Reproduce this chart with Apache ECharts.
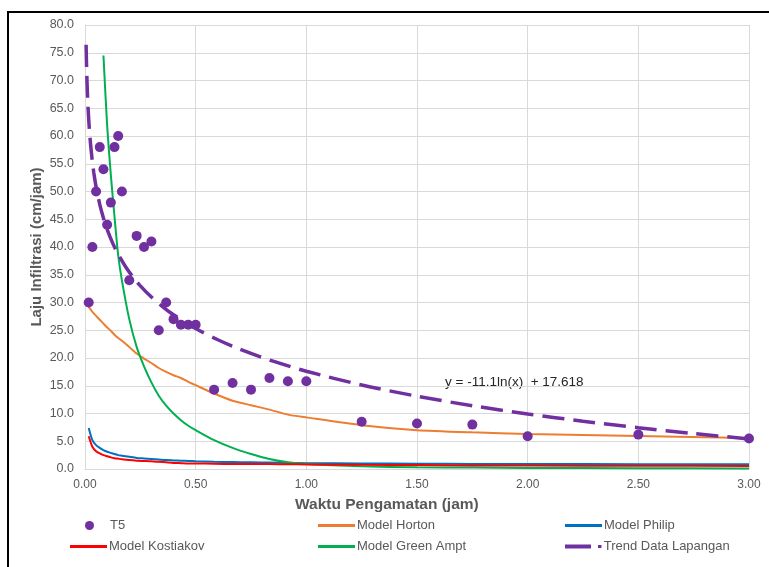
<!DOCTYPE html>
<html>
<head>
<meta charset="utf-8">
<script src="https://cdn.jsdelivr.net/npm/echarts@6/dist/echarts.min.js"></script>
<style>
  html, body { margin: 0; padding: 0; background: #fff; }
  #chart { width: 769px; height: 567px; }
</style>
</head>
<body>
<div id="chart"></div>
<script>
// Waktu pengamatan (jam)
const waktu = [0.0167, 0.0333, 0.05, 0.0667, 0.0833, 0.1, 0.1167, 0.1333, 0.15, 0.1667,
  0.2, 0.2333, 0.2667, 0.3, 0.3333, 0.3667, 0.4, 0.4333, 0.4667, 0.5,
  0.5833, 0.6667, 0.75, 0.8333, 0.9167, 1.0, 1.25, 1.5, 1.75, 2.0, 2.5, 3.0];

// Laju infiltrasi lapangan T5 (cm/jam)
const lajuT5 = [30, 40, 50, 58, 54, 44, 48, 58, 60, 50,
  34, 42, 40, 41, 25, 30, 27, 26, 26, 26,
  14.3, 15.5, 14.3, 16.4, 15.8, 15.8, 8.5, 8.2, 8.0, 5.9, 6.2, 5.5];

const modelHorton = [29.2, 28.3, 27.6, 26.9, 26.2, 25.5, 24.9, 24.2, 23.6, 23.1,
  22.0, 20.8, 19.9, 19.1, 18.2, 17.5, 16.9, 16.4, 15.7, 15.1,
  13.6, 12.3, 11.5, 10.7, 9.8, 9.3, 7.9, 7.0, 6.6, 6.3, 5.95, 5.6];

const modelPhilip = [7.4, 5.2, 4.3, 3.8, 3.4, 3.1, 2.9, 2.7, 2.5, 2.4,
  2.2, 2.0, 1.9, 1.8, 1.7, 1.6, 1.55, 1.5, 1.45, 1.4,
  1.3, 1.25, 1.2, 1.15, 1.1, 1.05, 1.0, 0.95, 0.92, 0.9, 0.87, 0.85];

const modelKostiakov = [5.9, 4.0, 3.2, 2.8, 2.5, 2.3, 2.1, 1.95, 1.85, 1.75,
  1.6, 1.5, 1.45, 1.4, 1.3, 1.2, 1.1, 1.05, 1.0, 1.0,
  0.95, 0.9, 0.9, 0.88, 0.85, 0.82, 0.75, 0.7, 0.65, 0.62, 0.58, 0.55];

// Green Ampt dimulai pada menit ke-5
const waktuGreenAmpt = waktu.slice(4);
const modelGreenAmpt = [74.5, 62, 53, 45.5, 38.5, 34,
  27, 22, 18.5, 15.6, 13.2, 11.4, 10.0, 8.8, 7.8, 7.0,
  5.2, 3.8, 2.7, 1.8, 1.2, 0.9, 0.5, 0.3, 0.25, 0.2, 0.15, 0.1];

// Trendline logaritmik: y = a ln(x) + b
const trendA = -11.1;
const trendB = 17.618;
const trendX = [0.005, 0.006, 0.0075, 0.009, 0.011, 0.0135, 0.0167, 0.02, 0.025, 0.0333,
  0.04, 0.05, 0.0667, 0.0833, 0.1, 0.125, 0.15, 0.1833, 0.2167, 0.25, 0.3, 0.35,
  0.4, 0.5, 0.6, 0.7, 0.85, 1.0, 1.25, 1.5, 1.75, 2.0, 2.25, 2.5, 2.75, 3.0];

const xTicks = ['0.00', '0.50', '1.00', '1.50', '2.00', '2.50', '3.00'];

const pairs = (xs, ys) => xs.map((x, i) => [x, ys[i]]);
const trendData = trendX.map(x => [x, trendA * Math.log(x) + trendB]);

const FONT = '"Liberation Sans", Arial, sans-serif';
const GREY = '#595959';

const chart = echarts.init(document.getElementById('chart'), null, { renderer: 'canvas' });

function legendItem(name, left, top, icon, h) {
  return {
    data: [{ name: name, icon: icon }],
    left: left, top: top,
    itemWidth: 37, itemHeight: h, itemGap: 0,
    padding: 0,
    selectedMode: false,
    textStyle: { fontFamily: FONT, fontSize: 13, color: GREY, padding: [0, 0, 0, -3] }
  };
}

const option = {
  backgroundColor: '#fff',
  animation: false,
  grid: { left: 85, right: 20, top: 25, bottom: 98, containLabel: false },
  xAxis: {
    type: 'value', min: 0, max: 3, interval: 0.5,
    axisLine: { show: true, lineStyle: { color: '#d9d9d9', width: 1 } },
    axisTick: { show: false },
    splitLine: { show: true, lineStyle: { color: '#d9d9d9', width: 1 } },
    axisLabel: {
      fontFamily: FONT, fontSize: 12, color: GREY, margin: 10,
      formatter: v => xTicks[Math.round(v / 0.5)]
    }
  },
  yAxis: {
    type: 'value', min: 0, max: 80, interval: 5,
    name: 'Laju Infiltrasi (cm/jam)',
    nameLocation: 'middle', nameGap: 41, nameMoveOverlap: false,
    nameTextStyle: { fontFamily: FONT, fontSize: 15, fontWeight: 'bold', color: GREY },
    axisLine: { show: true, lineStyle: { color: '#d9d9d9', width: 1 } },
    axisTick: { show: false },
    splitLine: { show: true, lineStyle: { color: '#d9d9d9', width: 1 } },
    axisLabel: {
      fontFamily: FONT, fontSize: 12.5, color: GREY, margin: 11,
      formatter: v => v.toFixed(1)
    }
  },
  legend: [
    legendItem('T5', 85, 519, 'circle', 9),
    legendItem('Model Horton', 318, 519, 'rect', 3),
    legendItem('Model Philip', 565, 519, 'rect', 3),
    legendItem('Model Kostiakov', 70, 540, 'rect', 3),
    legendItem('Model Green Ampt', 318, 540, 'rect', 3),
    legendItem('Trend Data Lapangan', 565, 540, 'path://M0,0H26V4H0Z M33,0.6H36.5V3.4H33Z', 4)
  ],
  graphic: [
    {
      type: 'rect', silent: true,
      shape: { x: 8, y: 12, width: 800, height: 600 },
      style: { fill: 'none', stroke: '#000', lineWidth: 2 }
    },
    {
      type: 'text', left: 295, top: 497, silent: true,
      style: { text: 'Waktu Pengamatan (jam)', fontFamily: FONT, fontSize: 15.5,
               fontWeight: 'bold', fill: GREY }
    },
    {
      type: 'text', left: 445, top: 375, silent: true,
      style: { text: 'y = -11.1ln(x)  + 17.618', fontFamily: FONT, fontSize: 13.5, fill: '#262626' }
    }
  ],
  series: [
    {
      name: 'Model Horton', type: 'line', data: pairs(waktu, modelHorton),
      showSymbol: false, smooth: 0.2, z: 2,
      lineStyle: { color: '#ED7D31', width: 2 }, itemStyle: { color: '#ED7D31' }
    },
    {
      name: 'Model Philip', type: 'line', data: pairs(waktu, modelPhilip),
      showSymbol: false, smooth: 0.2, z: 2,
      lineStyle: { color: '#0070C0', width: 2 }, itemStyle: { color: '#0070C0' }
    },
    {
      name: 'Model Kostiakov', type: 'line', data: pairs(waktu, modelKostiakov),
      showSymbol: false, smooth: 0.2, z: 3,
      lineStyle: { color: '#FF0000', width: 2 }, itemStyle: { color: '#FF0000' }
    },
    {
      name: 'Model Green Ampt', type: 'line', data: pairs(waktuGreenAmpt, modelGreenAmpt),
      showSymbol: false, smooth: 0.3, z: 2,
      lineStyle: { color: '#00B050', width: 2 }, itemStyle: { color: '#00B050' }
    },
    {
      name: 'Trend Data Lapangan', type: 'line', data: trendData,
      showSymbol: false, smooth: 0.3, z: 4,
      lineStyle: { color: '#7030A0', width: 3.5, type: [22, 9] }, itemStyle: { color: '#7030A0' }
    },
    {
      name: 'T5', type: 'scatter', data: pairs(waktu, lajuT5),
      symbol: 'circle', symbolSize: 10, z: 5,
      itemStyle: { color: '#7030A0', opacity: 1 }
    }
  ]
};

chart.setOption(option);
</script>
</body>
</html>
